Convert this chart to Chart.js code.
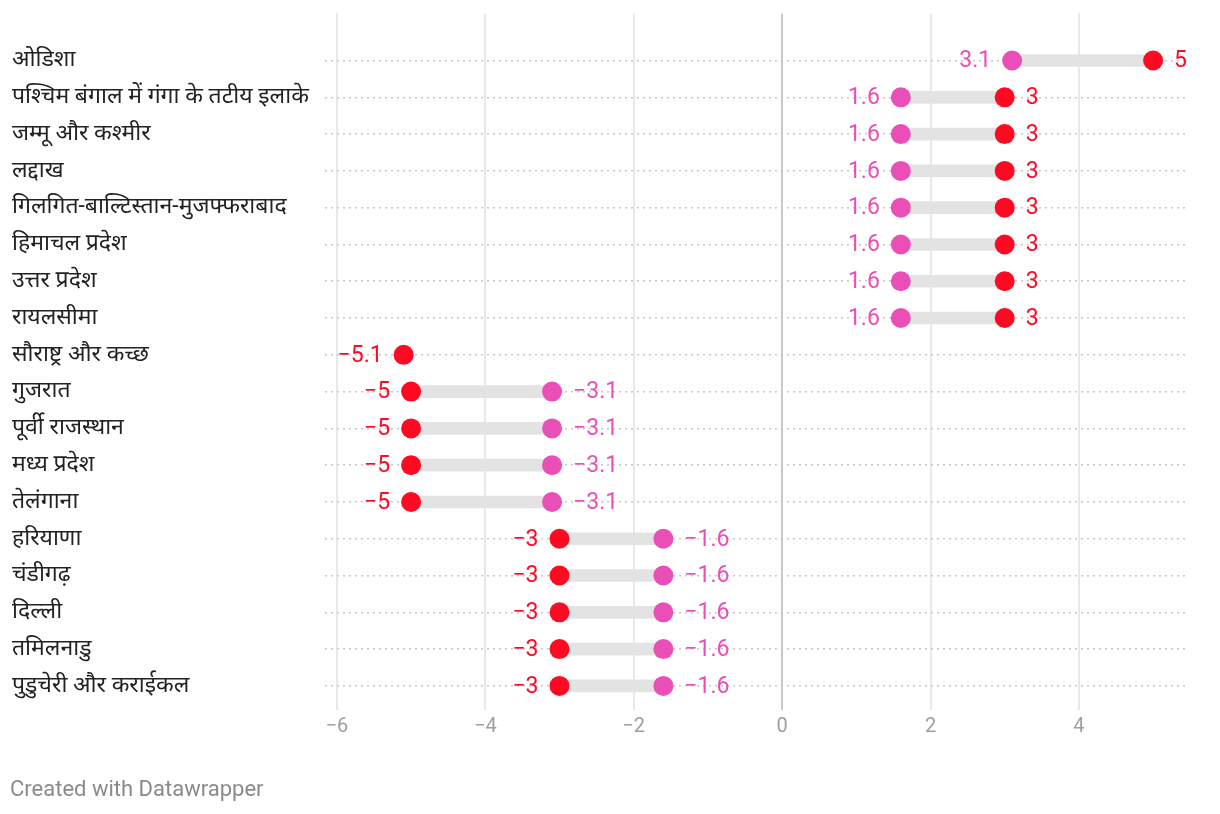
<!DOCTYPE html>
<html>
<head>
<meta charset="utf-8">
<script src="https://cdn.jsdelivr.net/npm/chart.js@4"></script>
<style>
  html, body { margin: 0; padding: 0; background: #fff; }
  #wrap { position: relative; width: 1220px; height: 814px; }
  #credit { position: absolute; left: 10px; top: 775px; font: 22px Roboto, "Noto Sans", sans-serif; color: #8a8a8a; line-height: 28px; }
</style>
</head>
<body>
<div id="wrap">
  <canvas id="c"></canvas>
  <div id="credit">Created with Datawrapper</div>
</div>
<script>
const categories = [
  "ओडिशा",
  "पश्चिम बंगाल में गंगा के तटीय इलाके",
  "जम्मू और कश्मीर",
  "लद्दाख",
  "गिलगित-बाल्टिस्तान-मुजफ्फराबाद",
  "हिमाचल प्रदेश",
  "उत्तर प्रदेश",
  "रायलसीमा",
  "सौराष्ट्र और कच्छ",
  "गुजरात",
  "पूर्वी राजस्थान",
  "मध्य प्रदेश",
  "तेलंगाना",
  "हरियाणा",
  "चंडीगढ़",
  "दिल्ली",
  "तमिलनाडु",
  "पुडुचेरी और कराईकल"
];
const pinkValues = [3.1, 1.6, 1.6, 1.6, 1.6, 1.6, 1.6, 1.6, null, -3.1, -3.1, -3.1, -3.1, -1.6, -1.6, -1.6, -1.6, -1.6];
const redValues  = [5, 3, 3, 3, 3, 3, 3, 3, -5.1, -5, -5, -5, -5, -3, -3, -3, -3, -3];
const xTicks = [-6, -4, -2, 0, 2, 4];

const PINK = "#e94fb6";
const RED = "#ff0a22";
const FONT = 'Roboto, "Noto Sans", sans-serif';

const rangeData = [];
categories.forEach((c, i) => {
  if (pinkValues[i] !== null && redValues[i] !== null) {
    rangeData.push({ y: i, x: [Math.min(pinkValues[i], redValues[i]), Math.max(pinkValues[i], redValues[i])] });
  }
});
const pinkData = [];
const redData = [];
categories.forEach((c, i) => {
  if (pinkValues[i] !== null) pinkData.push({ x: pinkValues[i], y: i });
  if (redValues[i] !== null) redData.push({ x: redValues[i], y: i });
});

function fmt(v) {
  const s = String(Math.abs(v));
  return v < 0 ? "\u2212" + s : s;
}

const labelPlugin = {
  id: "valueLabels",
  afterDatasetsDraw(chart) {
    const ctx = chart.ctx;
    const xs = chart.scales.x, ys = chart.scales.y;
    ctx.save();
    ctx.font = "23px " + FONT;
    ctx.textBaseline = "middle";
    const off = 21;
    categories.forEach((c, i) => {
      const y = ys.getPixelForValue(i);
      const p = pinkValues[i], r = redValues[i];
      const draw = (v, other, color) => {
        if (v === null) return;
        let left;
        if (other === null) left = v < 0; else left = v < other;
        const px = xs.getPixelForValue(v);
        ctx.fillStyle = color;
        ctx.textAlign = left ? "right" : "left";
        ctx.fillText(fmt(v), left ? px - off : px + off, y + 1);
      };
      draw(p, r, PINK);
      draw(r, p, RED);
    });
    ctx.restore();
  }
};

new Chart(document.getElementById("c"), {
  type: "bar",
  data: {
    datasets: [
      {
        type: "line",
        label: "red",
        data: redData,
        showLine: false,
        pointRadius: 10,
        pointHoverRadius: 10,
        pointBackgroundColor: RED,
        pointBorderWidth: 0,
        borderColor: RED,
        order: 1
      },
      {
        type: "line",
        label: "pink",
        data: pinkData,
        showLine: false,
        pointRadius: 10,
        pointHoverRadius: 10,
        pointBackgroundColor: PINK,
        pointBorderWidth: 0,
        borderColor: PINK,
        order: 2
      },
      {
        type: "bar",
        label: "range",
        data: rangeData,
        backgroundColor: "#e3e3e3",
        barThickness: 12,
        borderSkipped: false,
        order: 3
      }
    ]
  },
  options: {
    indexAxis: "y",
    responsive: true,
    maintainAspectRatio: false,
    animation: false,
    layout: { padding: { left: 12, right: 32, top: 10, bottom: 0 } },
    plugins: { legend: { display: false }, tooltip: { enabled: false } },
    scales: {
      x: {
        type: "linear",
        min: -6.16,
        max: 5.47,
        offset: false,
        afterBuildTicks(scale) { scale.ticks = xTicks.map(v => ({ value: v })); },
        afterFit(scale) { scale.height = 104; },
        border: { display: false },
        grid: {
          offset: false,
          drawTicks: false,
          lineWidth: 2,
          color: (ctx) => (ctx.tick && ctx.tick.value === 0) ? "#c9c9c9" : "#e8e8e8"
        },
        ticks: {
          padding: 5,
          color: "#9e9e9e",
          font: { family: FONT, size: 20 },
          callback: (v) => fmt(v)
        }
      },
      y: {
        type: "linear",
        reverse: true,
        offset: false,
        min: -1.27,
        max: 17.655,
        afterBuildTicks(scale) { scale.ticks = categories.map((c, i) => ({ value: i })); },
        afterFit(scale) { scale.width = 313; },
        border: { display: false, dash: [2, 4] },
        grid: {
          offset: false,
          drawTicks: false,
          color: "#c8c8c8",
          lineWidth: 1.5
        },
        ticks: {
          crossAlign: "far",
          padding: 0,
          color: "#222222",
          font: { family: FONT, size: 23 },
          callback: (v) => categories[v]
        }
      }
    }
  },
  plugins: [labelPlugin]
});
</script>
</body>
</html>
